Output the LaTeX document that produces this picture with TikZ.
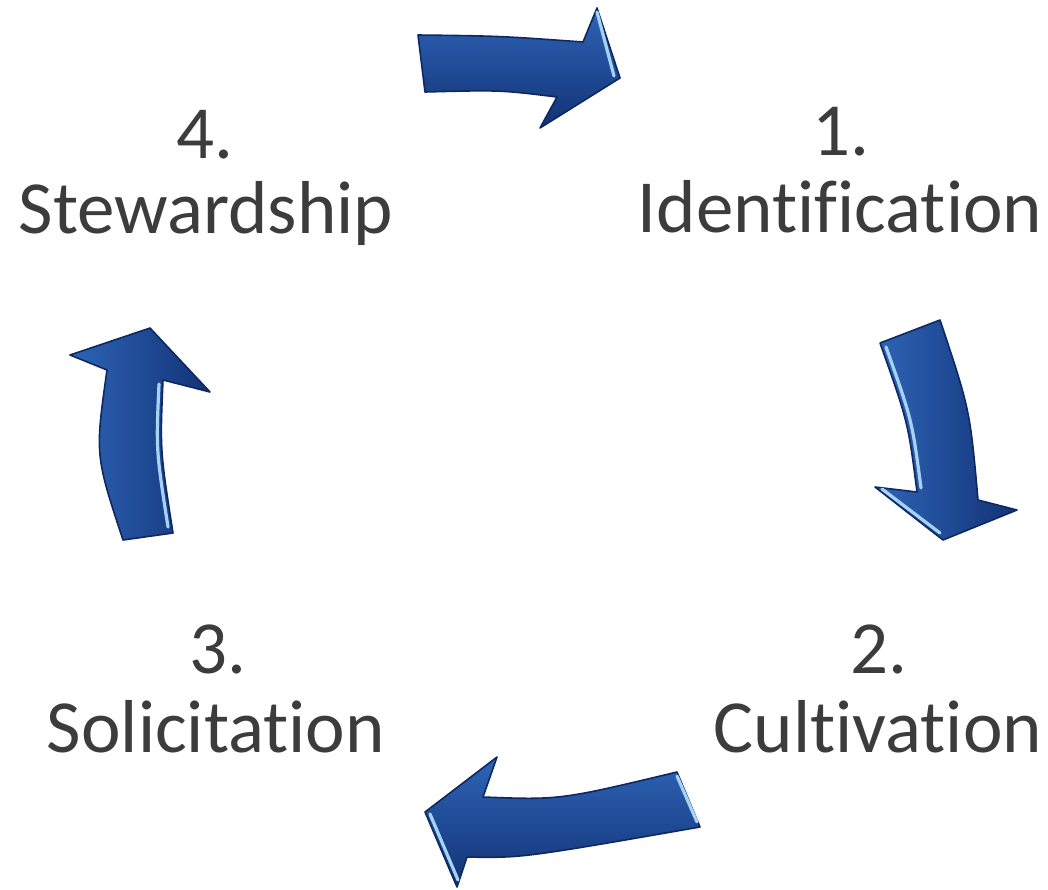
\documentclass[tikz,border=0pt]{standalone}
\usepackage{fontspec}
\setmainfont{Carlito}[Ligatures={NoCommon,NoContextual}]
\usetikzlibrary{positioning}
\definecolor{textgray}{RGB}{60,60,60}
\definecolor{arrowlight}{RGB}{46,100,182}
\definecolor{arrowdark}{RGB}{18,50,118}
\definecolor{arrowedge}{RGB}{14,40,96}
\definecolor{arrowshine}{RGB}{165,210,245}

\begin{document}
\begin{tikzpicture}[x=0.5pt,y=-0.5pt,
    lbl/.style={anchor=base,text=textgray,inner sep=0pt,
      font=\fontsize{37.5}{45}\selectfont},
    blockarrow/.style={draw=arrowedge,line width=0.8pt,line join=round},
    shine/.style={draw=arrowshine,line width=1.6pt,line cap=round}]
  \useasboundingbox (0,0) rectangle (1048,889);

  % the four steps
  \node[lbl] (num1) at (841,155) {1.};
  \node[lbl] (ident) at (840,232) {Identification};
  \node[lbl] (num2) at (879,673) {2.};
  \node[lbl] (cult) at (878,752) {Cultivation};
  \node[lbl] (num3) at (218,673) {3.};
  \node[lbl] (solic) at (216,752) {Solicitation};
  \node[lbl] (num4) at (205,158) {4.};
  \node[lbl] (stew) at (206,233) {Stewardship};

  % 4 -> 1 (top)
  \shade[blockarrow,top color=arrowlight,bottom color=arrowdark]
    (418,35) -- (425,92) .. controls (500,90) .. (557,97) -- (540,128)
    -- (620,78) -- (597,8) -- (583,42) .. controls (500,36) .. (418,35) -- cycle;
  \draw[shine] (597,12) -- (614,76);

  % 1 -> 2 (right)
  \shade[blockarrow,left color=arrowlight,right color=arrowdark]
    (880,343) -- (940,320) .. controls (970,410) .. (978,500) -- (1017,510)
    -- (943,540) -- (875,487) -- (917,492) .. controls (908,422) .. (880,343) -- cycle;
  \draw[shine] (886,347) .. controls (912,420) .. (921,488);
  \draw[shine] (882,489) -- (940,533);

  % 2 -> 3 (bottom)
  \shade[blockarrow,top color=arrowlight,bottom color=arrowdark]
    (677,772) -- (700,827) .. controls (522,858) .. (467,857) -- (457,887)
    -- (425,812) -- (497,757) -- (483,797) .. controls (560,800) .. (677,772) -- cycle;
  \draw[shine] (430,814) -- (458,880);
  \draw[shine] (677,776) -- (697,822);

  % 3 -> 4 (left)
  \shade[blockarrow,left color=arrowlight,right color=arrowdark]
    (123,540) -- (173,533) .. controls (160,450) .. (163,380) -- (210,392)
    -- (150,328) -- (70,355) -- (107,370) .. controls (95,455) .. (123,540) -- cycle;
  \draw[shine] (168,527) .. controls (156,450) .. (159,384);
\end{tikzpicture}
\end{document}
